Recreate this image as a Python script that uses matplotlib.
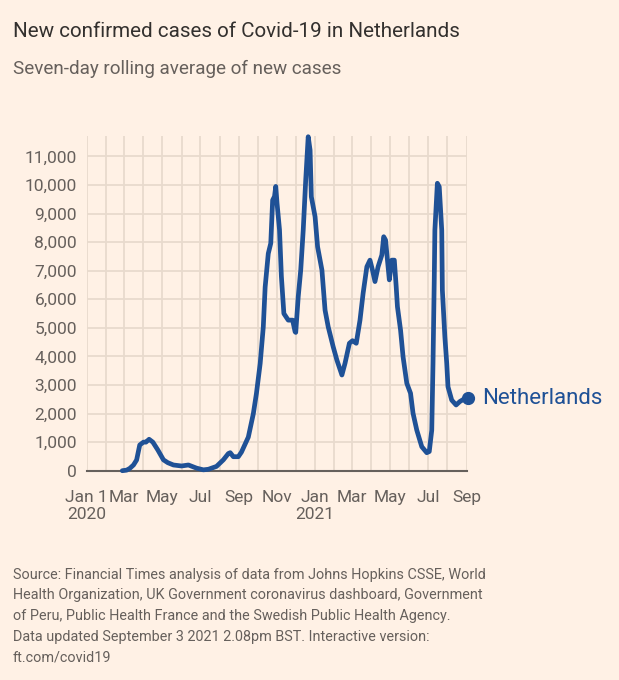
import matplotlib
matplotlib.use("Agg")
import matplotlib.pyplot as plt
import matplotlib.dates as mdates
import pandas as pd
import numpy as np

# ---- data ----
dates = [
    "2020-02-27", "2020-03-05", "2020-03-10", "2020-03-16", "2020-03-21", "2020-03-26",
    "2020-04-01", "2020-04-05", "2020-04-10", "2020-04-16", "2020-04-24", "2020-05-03",
    "2020-05-10", "2020-05-19", "2020-06-01", "2020-06-12", "2020-06-25", "2020-07-06",
    "2020-07-14", "2020-07-27", "2020-08-07", "2020-08-15", "2020-08-18", "2020-08-23",
    "2020-08-31", "2020-09-05", "2020-09-16", "2020-09-24", "2020-09-29", "2020-10-05",
    "2020-10-10", "2020-10-13", "2020-10-18", "2020-10-22", "2020-10-25", "2020-10-28",
    "2020-10-30", "2020-11-01", "2020-11-05", "2020-11-08", "2020-11-12", "2020-11-19",
    "2020-11-26", "2020-11-30", "2020-12-01", "2020-12-05", "2020-12-09", "2020-12-13",
    "2020-12-17", "2020-12-21", "2020-12-24", "2020-12-26", "2021-01-01", "2021-01-05",
    "2021-01-12", "2021-01-17", "2021-01-22", "2021-01-30", "2021-02-05", "2021-02-13",
    "2021-02-18", "2021-02-25", "2021-03-02", "2021-03-08", "2021-03-14", "2021-03-19",
    "2021-03-25", "2021-03-30", "2021-04-03", "2021-04-07", "2021-04-12", "2021-04-18",
    "2021-04-21", "2021-04-24", "2021-04-27", "2021-04-30", "2021-05-04", "2021-05-08",
    "2021-05-11", "2021-05-13", "2021-05-18", "2021-05-22", "2021-05-28", "2021-06-03",
    "2021-06-07", "2021-06-13", "2021-06-21", "2021-06-29", "2021-07-03", "2021-07-07",
    "2021-07-09", "2021-07-11", "2021-07-12", "2021-07-16", "2021-07-19", "2021-07-23",
    "2021-07-24", "2021-07-28", "2021-07-31", "2021-08-02", "2021-08-08", "2021-08-15",
    "2021-08-21", "2021-08-27", "2021-09-03",
]
cases = [
    0, 20, 80, 200, 375, 900,
    1000, 1000, 1100, 1000, 725, 380,
    280, 200, 165, 200, 90, 30,
    50, 150, 380, 600, 630, 490,
    490, 650, 1175, 1990, 2700, 3750,
    5030, 6430, 7600, 7960, 9470, 9600,
    9950, 9370, 8430, 6800, 5500, 5270,
    5270, 4860, 4840, 6090, 7020, 8420,
    10170, 11690, 11220, 9590, 8890, 7840,
    7020, 5620, 5040, 4340, 3870, 3350,
    3760, 4460, 4550, 4460, 5270, 6210,
    7140, 7370, 7020, 6620, 7140, 7550,
    8190, 8070, 7370, 6680, 7370, 7370,
    6440, 5740, 4920, 3990, 3060, 2710,
    2010, 1420, 840, 630, 670, 1420,
    3760, 6680, 8420, 10060, 9940, 8420,
    6320, 4690, 3760, 2940, 2470, 2300,
    2420, 2500, 2530,
]
series_label = "Netherlands"
ytick_values = [0, 1000, 2000, 3000, 4000, 5000, 6000, 7000, 8000, 9000, 10000, 11000]
xtick_dates = ["2020-01-01", "2020-03-01", "2020-05-01", "2020-07-01", "2020-09-01",
               "2020-11-01", "2021-01-01", "2021-03-01", "2021-05-01", "2021-07-01",
               "2021-09-01"]
xtick_labels = ["Jan 1\n2020", "Mar", "May", "Jul", "Sep", "Nov", "Jan\n2021",
                "Mar", "May", "Jul", "Sep"]

title = "New confirmed cases of Covid-19 in Netherlands"
subtitle = "Seven-day rolling average of new cases"
source = ("Source: Financial Times analysis of data from Johns Hopkins CSSE, World\n"
          "Health Organization, UK Government coronavirus dashboard, Government\n"
          "of Peru, Public Health France and the Swedish Public Health Agency.\n"
          "Data updated September 3 2021 2.08pm BST. Interactive version:\n"
          "ft.com/covid19")

# ---- style ----
BG = "#FFF1E5"
LINE = "#1F5196"
GRID = "#E8DACD"
TXT = "#33302E"
GREY = "#66605C"
FONT = "Roboto"

plt.rcParams["font.family"] = [FONT, "DejaVu Sans"]

W, H = 619, 680
fig = plt.figure(figsize=(W / 100, H / 100), dpi=100, facecolor=BG)
ax = fig.add_axes([86.7 / W, 1 - 470.7 / H, 380 / W, (470.7 - 136) / H])
ax.set_facecolor(BG)

x = pd.to_datetime(dates)
ax.plot(x, cases, color=LINE, lw=3.4, solid_joinstyle="round", solid_capstyle="round",
        zorder=3, clip_on=False)
ax.plot(x[-1:], cases[-1:], "o", color=LINE, ms=8.5, zorder=4, clip_on=False)
ax.annotate(series_label, xy=(x[-1], cases[-1]), xytext=(10, 0), textcoords="offset points",
            va="center", ha="left", color=LINE, fontsize=16, annotation_clip=False)

ax.set_xlim(pd.Timestamp("2020-01-01"), pd.Timestamp("2021-09-01"))
ax.set_ylim(0, 11715)

# grid
ax.xaxis.set_minor_locator(mdates.MonthLocator())
ax.set_xticks(pd.to_datetime(xtick_dates))
ax.set_xticklabels(xtick_labels)
ax.set_yticks(ytick_values)
ax.set_yticklabels([f"{v:,}" for v in ytick_values])
ax.grid(True, which="both", axis="x", color=GRID, lw=1.3, zorder=0)
ax.grid(True, which="major", axis="y", color=GRID, lw=1.3, zorder=0)
ax.tick_params(which="both", length=0)
ax.tick_params(axis="y", pad=7, labelsize=12.5, labelcolor=GREY)
ax.tick_params(axis="x", pad=14, labelsize=12.5, labelcolor=GREY)
for lab in ax.get_xticklabels():
    lab.set_linespacing(1.15)
for s in ["top", "right", "left"]:
    ax.spines[s].set_visible(False)
ax.spines["bottom"].set_color(GREY)
ax.spines["bottom"].set_linewidth(1.5)
ax.spines["bottom"].set_zorder(2)

fig.text(12.7 / W, 1 - 36.7 / H, title, ha="left", va="baseline", fontsize=14.9, color=TXT)
fig.text(12.7 / W, 1 - 74 / H, subtitle, ha="left", va="baseline", fontsize=13.6, color=GREY)
fig.text(12.7 / W, 1 - 567.5 / H, source, ha="left", va="top", fontsize=10.4, color=GREY,
         linespacing=1.62)

fig.savefig("out.png", dpi=100, facecolor=BG)
